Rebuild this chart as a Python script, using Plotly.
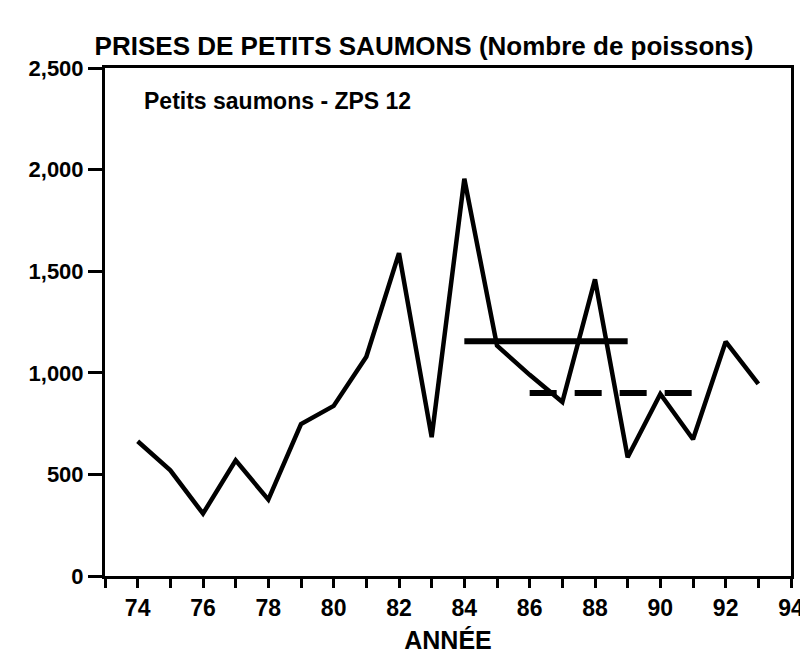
import plotly.graph_objects as go

years = [74, 75, 76, 77, 78, 79, 80, 81, 82, 83, 84, 85, 86, 87, 88, 89, 90, 91, 92, 93]
catches = [663, 520, 307, 569, 376, 748, 837, 1079, 1589, 683, 1955, 1134, 990, 856, 1460, 584, 896, 673, 1153, 946]

solid_years = [84, 89]
solid_level = [1155, 1155]
dashed_years = [86, 91]
dashed_level = [900, 900]

x_tickvals = [74, 76, 78, 80, 82, 84, 86, 88, 90, 92, 94]
y_tickvals = [0, 500, 1000, 1500, 2000, 2500]

FONT = "Liberation Sans"
W, H = 808, 657
L, R, T, B = 97, 19, 60, 89

fig = go.Figure()
fig.add_trace(go.Scatter(x=years, y=catches, mode="lines",
                         line=dict(color="black", width=4.5), showlegend=False))
fig.add_trace(go.Scatter(x=solid_years, y=solid_level, mode="lines",
                         line=dict(color="black", width=6), showlegend=False))
fig.add_trace(go.Scatter(x=dashed_years, y=dashed_level, mode="lines",
                         line=dict(color="black", width=6, dash="27px,18px"), showlegend=False))

fig.update_layout(
    width=W, height=H,
    margin=dict(l=L, r=R, t=T, b=B),
    paper_bgcolor="white", plot_bgcolor="white",
    font=dict(family=FONT, color="black"),
    title=dict(text="<b>PRISES DE PETITS SAUMONS (Nombre de poissons)</b>",
               x=416 / W, xanchor="center", y=1 - 38 / H, yanchor="middle",
               font=dict(size=26, family=FONT, color="black")),
)
fig.add_annotation(text="<b>Petits saumons - ZPS 12</b>",
                   x=(134 - L) / (W - L - R), y=(H - B - 93) / (H - T - B),
                   xref="paper", yref="paper", xanchor="left", yanchor="middle",
                   showarrow=False, font=dict(size=23, family=FONT, color="black"))

fig.update_xaxes(range=[73, 94], tickvals=x_tickvals, ticktext=[str(v) for v in x_tickvals],
                 ticks="outside", ticklen=9, tickwidth=2.5, tickcolor="black",
                 minor=dict(dtick=1, tick0=73, ticks="outside", ticklen=9, tickwidth=2.5, tickcolor="black"),
                 showline=True, linewidth=3, linecolor="black", mirror=True,
                 showgrid=False, zeroline=False,
                 tickfont=dict(size=23, family=FONT, color="black", weight="bold"),
                 title=dict(text="<b>ANNÉE</b>", font=dict(size=25, family=FONT, color="black"), standoff=12))
fig.update_yaxes(range=[0, 2500], tickvals=y_tickvals, tickformat=",",
                 ticks="outside", ticklen=14, tickwidth=2.5, tickcolor="black",
                 showline=True, linewidth=3, linecolor="black", mirror=True,
                 showgrid=False, zeroline=False,
                 tickfont=dict(size=22, family=FONT, color="black", weight="bold"))

fig.write_html("out.html")
